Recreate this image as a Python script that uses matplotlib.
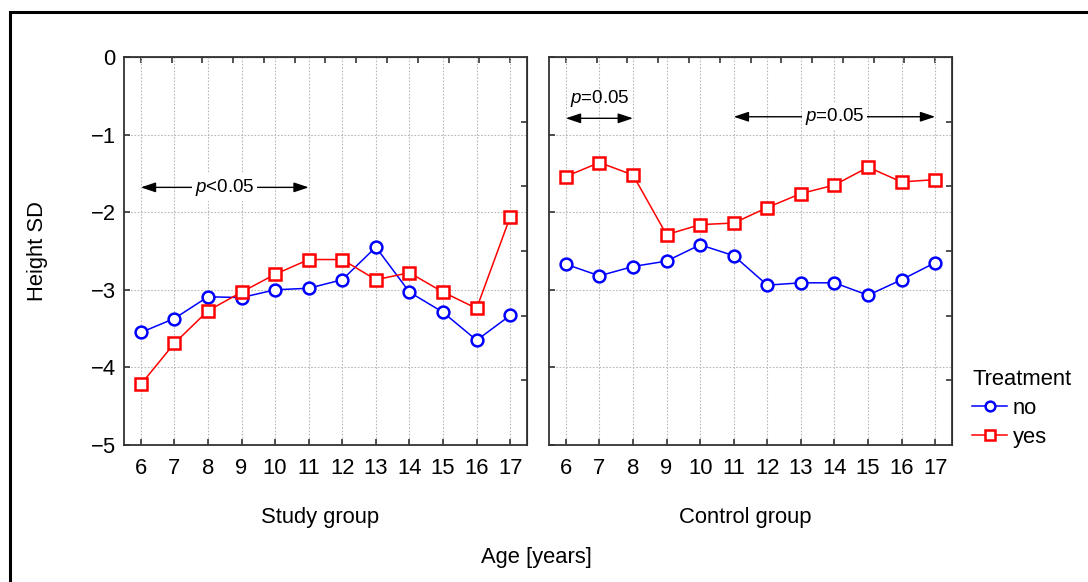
import numpy as np
import matplotlib
matplotlib.use('Agg')
import matplotlib.pyplot as plt
from matplotlib.patches import Rectangle

plt.rcParams['font.family'] = ['Liberation Sans', 'DejaVu Sans']
plt.rcParams['mathtext.fontset'] = 'custom'
plt.rcParams['mathtext.it'] = 'Liberation Sans:italic'
plt.rcParams['mathtext.rm'] = 'Liberation Sans'

# data
ages = [6, 7, 8, 9, 10, 11, 12, 13, 14, 15, 16, 17]
study_no = [-3.55, -3.37, -3.09, -3.10, -3.00, -2.98, -2.87, -2.45, -3.03, -3.29, -3.65, -3.33]
study_yes = [-4.22, -3.69, -3.27, -3.03, -2.80, -2.61, -2.61, -2.87, -2.78, -3.03, -3.24, -2.06]
control_no = [-2.67, -2.82, -2.70, -2.63, -2.42, -2.56, -2.94, -2.91, -2.91, -3.07, -2.87, -2.65]
control_yes = [-1.54, -1.36, -1.52, -2.29, -2.16, -2.14, -1.94, -1.76, -1.65, -1.42, -1.61, -1.58]
yticks = [0, -1, -2, -3, -4, -5]
panel_names = ['Study group', 'Control group']

blue = '#0000ff'
red = '#ff0000'
fs = 15.8

fig = plt.figure(figsize=(10.88, 5.82), dpi=100)
W, H = 1088, 582

# outer frame running off the right/bottom edge
fig.patches.append(Rectangle((10 / W, -0.1), 1.2, 1.1 - 12 / H,
                             transform=fig.transFigure, fill=False,
                             edgecolor='black', linewidth=2.2))

ax1 = fig.add_axes([124 / W, 1 - 445 / H, 403 / W, 388 / H])
ax2 = fig.add_axes([549 / W, 1 - 445 / H, 403 / W, 388 / H])

for ax, no, yes, name in [(ax1, study_no, study_yes, panel_names[0]),
                          (ax2, control_no, control_yes, panel_names[1])]:
    ax.plot(ages, no, color=blue, lw=1.1, marker='o', ms=8.5,
            mfc='white', mec=blue, mew=1.8, label='no', zorder=3)
    ax.plot(ages, yes, color=red, lw=1.1, marker='s', ms=8,
            mfc='white', mec=red, mew=1.8, label='yes', zorder=3)
    ax.set_xlim(5.5, 17.5)
    ax.set_ylim(-5, 0)
    ax.set_xticks(ages)
    ax.set_yticks(yticks)
    ax.grid(True, color='#b8b8b8', linestyle=(0, (1.5, 1.5)), linewidth=0.8)
    for s in ax.spines.values():
        s.set_color('#333333')
        s.set_linewidth(1.3)
    ax.tick_params(direction='in', length=4, width=1.2, color='#333333',
                   labelsize=fs, pad=9)
    # extra ticks on top and right, like the original program draws them
    top = ax.secondary_xaxis('top')
    top.set_xticks(np.linspace(6, 17, 13))
    top.tick_params(direction='in', length=4, width=1.2, labeltop=False, color='#333333')
    right = ax.secondary_yaxis('right')
    right.set_yticks(np.linspace(0, -5, 7)[1:-1])
    right.tick_params(direction='in', length=4, width=1.2, labelright=False, color='#333333')
    ax.text(11.35, -5.93, name, ha='center', va='center', fontsize=fs,
            transform=ax.transData, clip_on=False)

ax1.set_yticklabels(['0', '\u22121', '\u22122', '\u22123', '\u22124', '\u22125'])
ax1.tick_params(axis='y', pad=6)
ax2.set_yticklabels([])
ax1.set_ylabel('Height SD', fontsize=fs)
ax1.yaxis.set_label_coords((48 - 124) / 403, 0.5)

arrow = dict(arrowstyle='<|-|>,head_length=0.9,head_width=0.3', color='black',
             lw=1.0, shrinkA=0, shrinkB=0)
txt_bbox = dict(facecolor='white', edgecolor='none', pad=2)

# significance markers
ax1.annotate('', xy=(6, -1.68), xytext=(11, -1.68), arrowprops=arrow)
ax1.text(8.5, -1.68, '$p$<0.05', ha='center', va='center', fontsize=13.5, bbox=txt_bbox)

ax2.annotate('', xy=(6, -0.79), xytext=(8, -0.79), arrowprops=arrow)
ax2.text(7.0, -0.53, '$p$=0.05', ha='center', va='center', fontsize=13.5)
ax2.annotate('', xy=(11, -0.77), xytext=(17, -0.77), arrowprops=arrow)
ax2.text(14.0, -0.77, '$p$=0.05', ha='center', va='center', fontsize=13.5, bbox=txt_bbox)

fig.text(536 / W, 1 - 557 / H, 'Age [years]', ha='center', va='center', fontsize=fs)

handles, labels = ax1.get_legend_handles_labels()
leg = fig.legend(handles, labels, title='Treatment', loc='upper left',
                 bbox_to_anchor=(957 / W, 1 - 354 / H), frameon=False,
                 fontsize=fs, title_fontsize=fs, handlelength=1.6,
                 handletextpad=0.25, borderpad=0.2, labelspacing=0.35)
leg._legend_box.align = 'left'
for h in leg.legend_handles:
    h.set_markersize(7)

fig.savefig('out.png', dpi=100)
